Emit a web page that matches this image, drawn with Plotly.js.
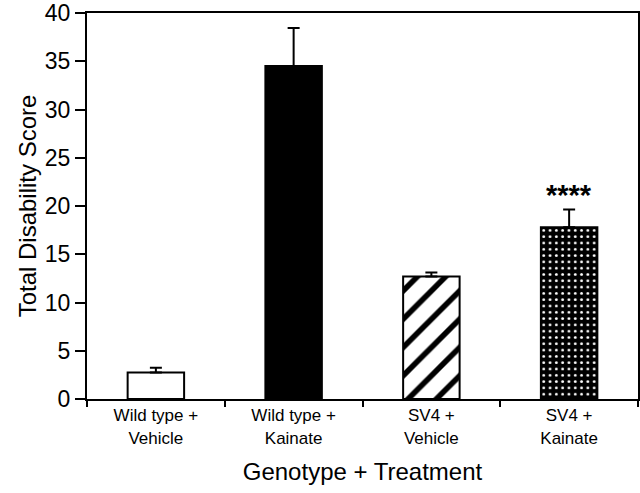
<!DOCTYPE html>
<html>
<head>
<meta charset="utf-8">
<script src="https://cdn.plot.ly/plotly-3.0.1.min.js"></script>
<style>html,body{margin:0;padding:0;background:#fff;}#chart{width:640px;height:493px;}</style>
</head>
<body>
<div id="chart"></div>
<script>
const categories = ["Wild type +<br>Vehicle", "Wild type +<br>Kainate", "SV4 +<br>Vehicle", "SV4 +<br>Kainate"];
const scores = [2.75, 34.5, 12.7, 17.8];
const errors = [0.48, 3.95, 0.4, 1.83];
const significance = ["", "", "", "****"];
const yTicks = [0, 5, 10, 15, 20, 25, 30, 35, 40];

const font = "Liberation Sans, Arial, Helvetica, sans-serif";

// fill style per bar: plain white, solid black, diagonal hatch, dotted black
const fills = [
  {color: "white"},
  {color: "black"},
  {color: "white", pattern: {shape: "/", fgcolor: "black", bgcolor: "white", fgopacity: 1, size: 20, solidity: 0.28, fillmode: "overlay"}},
  {color: "black", pattern: {shape: ".", fgcolor: "white", bgcolor: "black", fgopacity: 1, size: 6.3, solidity: 0.16, fillmode: "overlay"}}
];

const traces = categories.map((c, i) => ({
  type: "bar",
  x: [c],
  y: [scores[i]],
  width: 0.41,
  marker: Object.assign({line: {color: "black", width: 2}}, fills[i]),
  error_y: {
    type: "data",
    symmetric: false,
    array: [errors[i]],
    arrayminus: [0],
    color: "black",
    thickness: 2,
    width: 6
  },
  hoverinfo: "skip"
}));

const annotations = significance.map((s, i) => ({
  x: categories[i],
  y: scores[i] + errors[i],
  xref: "x", yref: "y",
  text: s,
  showarrow: false,
  yanchor: "bottom",
  yshift: -3,
  font: {family: font, size: 29, color: "black", weight: "bold"}
})).filter(a => a.text);

const layout = {
  width: 640, height: 493,
  margin: {l: 87, r: 2, t: 13, b: 94},
  paper_bgcolor: "white",
  plot_bgcolor: "white",
  showlegend: false,
  barmode: "overlay",
  font: {family: font, color: "black"},
  xaxis: {
    type: "category",
    categoryorder: "array",
    categoryarray: categories,
    range: [-0.5, 3.5],
    tickson: "boundaries",
    ticks: "outside",
    ticklen: 6,
    tickwidth: 2,
    tickcolor: "black",
    showline: true,
    mirror: true,
    linecolor: "black",
    linewidth: 2,
    showgrid: false,
    zeroline: false,
    tickfont: {family: font, size: 17, color: "black"},
    title: {text: "Genotype + Treatment", font: {family: font, size: 24, color: "black"}, standoff: 17}
  },
  yaxis: {
    range: [0, 40],
    tickvals: yTicks,
    ticktext: yTicks.map(String),
    ticks: "outside",
    ticklen: 10,
    tickwidth: 2,
    tickcolor: "black",
    ticklabeloverflow: "allow",
    showline: true,
    mirror: true,
    linecolor: "black",
    linewidth: 2,
    showgrid: false,
    zeroline: false,
    tickfont: {family: font, size: 23, color: "black"},
    title: {text: "Total Disability Score", font: {family: font, size: 24, color: "black"}, standoff: 1}
  },
  annotations: annotations
};

Plotly.newPlot("chart", traces, layout, {displayModeBar: false, staticPlot: true});
</script>
</body>
</html>
